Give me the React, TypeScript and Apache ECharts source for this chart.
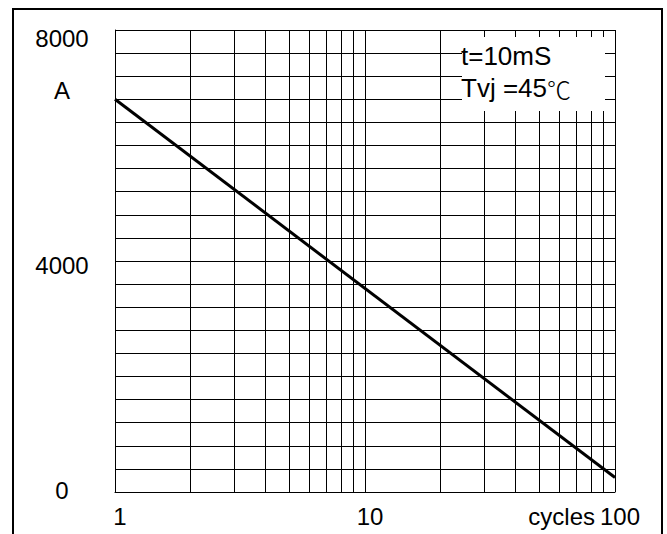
import React, { useEffect, useRef } from "react";
import * as echarts from "echarts";

// Data
const cycles = [1, 100];
const surgeCurrent = [6800, 250];
const xTickLabels = [1, 10, 100];
const xMinorLines = [2, 3, 4, 5, 6, 7, 8, 9, 20, 30, 40, 50, 60, 70, 80, 90];
const yTickLabels = [0, 4000, 8000];
const yMin = 0;
const yMax = 8000;
const yStep = 400;
const noteLine1 = "t=10mS";
const noteLine2 = "Tvj =45";
const noteUnit = "℃";
const yUnit = "A";
const xUnit = "cycles";

const FONT = "'Liberation Sans', Arial, 'Noto Sans CJK SC', sans-serif";
const CJK = "'Noto Sans CJK SC', 'Liberation Sans', sans-serif";

export default function App() {
  const ref = useRef<HTMLDivElement>(null);

  useEffect(() => {
    if (!ref.current) return;
    const chart = echarts.init(ref.current, undefined, { renderer: "svg" });

    const yRich: Record<string, any> = {
      y8000: { fontSize: 24, fontFamily: FONT, color: "#000", padding: [17, 0, 0, 0] },
      y4000: { fontSize: 24, fontFamily: FONT, color: "#000", padding: [8, 0, 0, 0] },
      y0: { fontSize: 24, fontFamily: FONT, color: "#000", padding: [0, 0, 4, 0] },
    };

    chart.setOption({
      animation: false,
      backgroundColor: "#fff",
      grid: { left: 115, top: 30, right: 52, bottom: 42, containLabel: false },
      xAxis: {
        type: "log",
        logBase: 10,
        min: 1,
        max: 100,
        axisLine: { show: true, lineStyle: { color: "#000", width: 1 } },
        axisTick: { show: false },
        splitLine: { show: true, lineStyle: { color: "#000", width: 1 } },
        axisLabel: {
          show: true,
          margin: 12,
          fontSize: 24,
          fontFamily: FONT,
          color: "#000",
          formatter: (v: number) =>
            xTickLabels.includes(v) ? `{x|${v}}` : "",
          rich: {
            x: { fontSize: 24, fontFamily: FONT, color: "#000", padding: [0, 0, 0, 10] },
          },
        },
      },
      yAxis: {
        type: "value",
        min: yMin,
        max: yMax,
        interval: yStep,
        axisLine: { show: true, lineStyle: { color: "#000", width: 1 } },
        axisTick: { show: false },
        splitLine: { show: true, lineStyle: { color: "#000", width: 1 } },
        axisLabel: {
          show: true,
          align: "center",
          margin: 53,
          fontSize: 24,
          fontFamily: FONT,
          color: "#000",
          formatter: (v: number) =>
            yTickLabels.includes(v) ? `{y${v}|${v}}` : "",
          rich: yRich,
        },
      },
      series: [
        {
          type: "line",
          data: cycles.map((c, i) => [c, surgeCurrent[i]]),
          symbol: "none",
          lineStyle: { color: "#000", width: 3 },
          z: 5,
          markLine: {
            silent: true,
            symbol: ["none", "none"],
            label: { show: false },
            emphasis: { disabled: true },
            lineStyle: { color: "#000", width: 1, type: "solid" },
            data: xMinorLines.map((v) => ({ xAxis: v })),
          },
        },
      ],
      graphic: [
        {
          type: "rect",
          z: 100,
          shape: { x: 13, y: 9, width: 649, height: 600 },
          style: { fill: "none", stroke: "#000", lineWidth: 2 },
        },
        {
          type: "rect",
          z: 100,
          shape: { x: 462, y: 37, width: 143, height: 74 },
          style: { fill: "#fff", stroke: "none" },
        },
        {
          type: "text",
          z: 101,
          x: 461,
          y: 56,
          style: {
            text: noteLine1,
            fontSize: 26,
            fontFamily: FONT,
            fill: "#000",
            align: "left",
            verticalAlign: "middle",
            textAlign: "left",
            textVerticalAlign: "middle",
          },
        },
        {
          type: "text",
          z: 101,
          x: 461,
          y: 88,
          style: {
            text: `{n|${noteLine2}}{u|${noteUnit}}`,
            fill: "#000",
            align: "left",
            verticalAlign: "middle",
            textAlign: "left",
            textVerticalAlign: "middle",
            rich: {
              n: { fontSize: 26, fontFamily: FONT, fill: "#000" },
              u: { fontSize: 24, fontFamily: CJK, fontWeight: 300, fill: "#000" },
            },
          },
        },
        {
          type: "text",
          z: 101,
          x: 62,
          y: 90,
          style: {
            text: yUnit,
            fontSize: 24,
            fontFamily: FONT,
            fill: "#000",
            align: "center",
            verticalAlign: "middle",
            textAlign: "center",
            textVerticalAlign: "middle",
          },
        },
        {
          type: "text",
          z: 101,
          x: 595,
          y: 516,
          style: {
            text: xUnit,
            fontSize: 24,
            fontFamily: FONT,
            fill: "#000",
            align: "right",
            verticalAlign: "middle",
            textAlign: "right",
            textVerticalAlign: "middle",
          },
        },
      ],
    });

    return () => chart.dispose();
  }, []);

  return (
    <div
      ref={ref}
      style={{ position: "fixed", left: 0, top: 0, width: 667, height: 534, background: "#fff" }}
    />
  );
}
